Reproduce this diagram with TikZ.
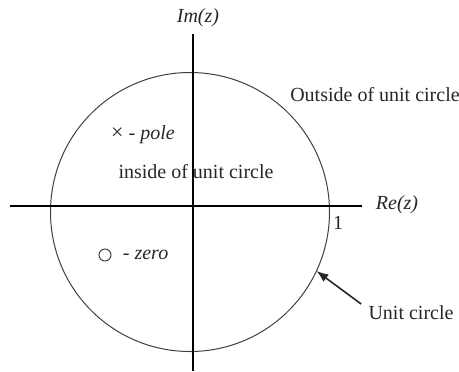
\documentclass[tikz,border=0pt]{standalone}
\usepackage{fontspec}
\setmainfont{Liberation Serif}
\usepackage{tikz}
\usetikzlibrary{calc, positioning, arrows.meta}

\begin{document}
\begin{tikzpicture}[>={Latex[length=6pt,width=4.5pt]}, x=0.5pt, y=0.5pt,
    font=\fontsize{10}{12}\selectfont,
    every node/.style={text=black!85, inner sep=0pt}]
    \useasboundingbox (-193,-165) rectangle (266,206);

    % 1. Đường tròn đơn vị
    \draw[black!75, line width=0.5pt] (-3,-6) circle (139.5);
    \coordinate (ucpt) at ($(-3,-6)+(-25:139.5)$);

    % 2. Hệ trục tọa độ
    \draw[black, line width=1pt] (-183,0) -- (169,0);
    \draw[black, line width=1pt] (0,172) -- (0,-165);
    \node (imlbl) at (5,188) {\textit{Im(z)}};
    \node (relbl) at (204,1) {\textit{Re(z)}};
    \node (onelbl) at (145,-17) {1};

    % 3. Các nhãn
    \node (outlbl) at (182,111) {Outside of unit circle};
    \node (inlbl) at (3,34) {inside of unit circle};
    \node (polelbl) at (-50,71) {{\fontsize{11}{12}\selectfont×} - \textit{pole}};
    \node[circle, draw=black!75, line width=0.5pt, minimum size=6pt] (zeromk) at (-88,-49) {};
    \node[right=5.5pt of zeromk] (zerolbl) {- \textit{zero}};

    % 4. Mũi tên chỉ đường tròn đơn vị
    \node (unitlbl) at (218,-107) {Unit circle};
    \draw[->, black!85, line width=0.8pt] ([shift={(-7,9)}]unitlbl.west) -- (ucpt);

\end{tikzpicture}
\end{document}
